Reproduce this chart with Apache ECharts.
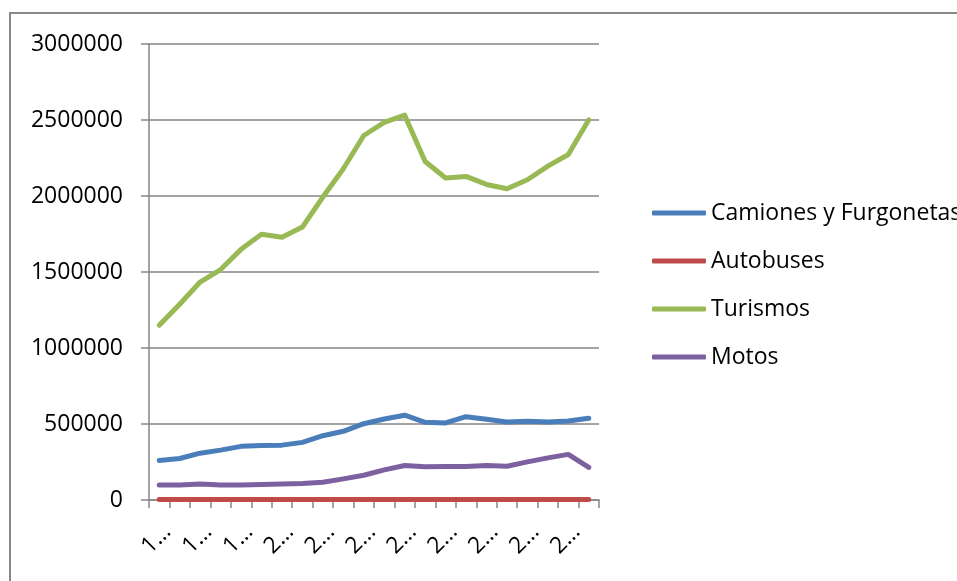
<!DOCTYPE html>
<html>
<head>
<meta charset="utf-8">
<script src="https://cdn.jsdelivr.net/npm/echarts@6/dist/echarts.min.js"></script>
<style>
  html, body { margin: 0; padding: 0; background: #fff; }
  #chart { width: 957px; height: 581px; }
</style>
</head>
<body>
<div id="chart"></div>
<script>
// años (etiquetas truncadas en el original: "1…", "2…")
var years = ['1995', '1996', '1997', '1998', '1999', '2000', '2001', '2002', '2003', '2004', '2005',
  '2006', '2007', '2008', '2009', '2010', '2011', '2012', '2013', '2014', '2015', '2016']

var camiones = [260000, 273000, 308000, 328000, 353000, 359000, 361000, 379000, 423000, 452000, 502000,
  533000, 558000, 511000, 507000, 548000, 531000, 513000, 518000, 513000, 520000, 538000]
var autobuses = [3500, 3500, 3600, 3600, 3700, 3700, 3700, 3800, 3800, 3900, 4000,
  4000, 4100, 4000, 3900, 3900, 3800, 3700, 3700, 3700, 3800, 3900]
var turismos = [1150000, 1288000, 1434000, 1516000, 1649000, 1748000, 1728000, 1796000, 1993000, 2179000, 2398000,
  2484000, 2532000, 2227000, 2118000, 2129000, 2076000, 2048000, 2107000, 2197000, 2273000, 2501000]
var motos = [99000, 99000, 106000, 99000, 99000, 102000, 105000, 108000, 117000, 139000, 163000,
  198000, 227000, 218000, 220000, 220000, 227000, 222000, 251000, 277000, 300000, 214000]

var yTicks = [0, 500000, 1000000, 1500000, 2000000, 2500000, 3000000]

var chart = echarts.init(document.getElementById('chart'))
var font = 'Open Sans'
var gridColor = '#868686'

function serie(name, data, color) {
  return {
    name: name,
    type: 'line',
    data: data,
    symbol: 'none',
    animation: false,
    lineStyle: { width: 5, color: color, cap: 'round', join: 'round' },
    itemStyle: { color: color }
  }
}

chart.setOption({
  animation: false,
  graphic: [{
    type: 'rect',
    shape: { x: 10, y: 13, width: 1000, height: 700 },
    style: { fill: 'none', stroke: '#888', lineWidth: 2 },
    silent: true
  }],
  grid: { left: 149, right: 358, top: 44, bottom: 81 },
  legend: {
    orient: 'vertical',
    left: 652,
    top: 199,
    padding: 0,
    icon: 'roundRect',
    itemWidth: 54,
    itemHeight: 5,
    itemGap: 20,
    textStyle: { fontFamily: font, fontSize: 23, color: '#000', lineHeight: 28 },
    data: ['Camiones y Furgonetas', 'Autobuses', 'Turismos', 'Motos']
  },
  xAxis: {
    type: 'category',
    data: years,
    boundaryGap: true,
    axisLine: { lineStyle: { color: gridColor, width: 1.5 } },
    axisTick: { show: true, interval: 0, length: 8, lineStyle: { color: gridColor, width: 1.5 } },
    axisLabel: {
      interval: 1,
      rotate: 45,
      margin: 20,
      verticalAlign: 'top',
      fontFamily: font,
      fontSize: 23,
      color: '#000',
      formatter: function (v) { return v.charAt(0) + '…' }
    }
  },
  yAxis: {
    type: 'value',
    min: yTicks[0],
    max: yTicks[yTicks.length - 1],
    interval: 500000,
    axisLine: { show: true, lineStyle: { color: gridColor, width: 1.5 } },
    axisTick: { show: true, length: 8, lineStyle: { color: gridColor, width: 1.5 } },
    splitLine: { show: true, lineStyle: { color: gridColor, width: 1.5 } },
    axisLabel: {
      margin: 26, fontFamily: font, fontSize: 23, color: '#000',
      formatter: function (v) { return String(v) }
    }
  },
  series: [
    serie('Camiones y Furgonetas', camiones, '#4A7EBB'),
    serie('Autobuses', autobuses, '#BE4B48'),
    serie('Turismos', turismos, '#98B954'),
    serie('Motos', motos, '#7D60A0')
  ]
})
</script>
</body>
</html>
